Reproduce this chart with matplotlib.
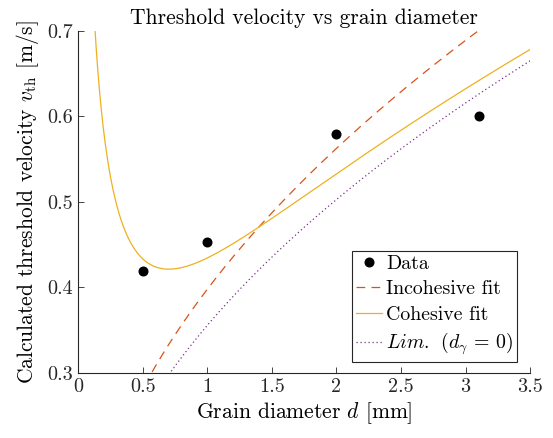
import numpy as np
import matplotlib
matplotlib.use("Agg")
import matplotlib.pyplot as plt

plt.rcParams["font.family"] = "serif"
plt.rcParams["font.serif"] = ["cmr10"]
plt.rcParams["mathtext.fontset"] = "cm"
plt.rcParams["axes.formatter.use_mathtext"] = True

# Measured threshold velocities
grain_d = np.array([0.5, 1.0, 2.0, 3.1])        # mm
v_th = np.array([0.419, 0.453, 0.579, 0.600])   # m/s

# Incohesive model v = sqrt(A d): linear least squares in sqrt(A)
s = np.sqrt(grain_d)
c = np.sum(v_th * s) / np.sum(s * s)
A_inc = c ** 2

# Cohesive model v = sqrt(a d + b / d): Gauss-Newton least squares
a, b = 0.12, 0.06
for _ in range(100):
    model = np.sqrt(a * grain_d + b / grain_d)
    r = v_th - model
    J = np.column_stack([grain_d / (2 * model), 1.0 / (grain_d * 2 * model)])
    step, *_ = np.linalg.lstsq(J, r, rcond=None)
    a += step[0]
    b += step[1]

d = np.linspace(0.01, 3.5, 2000)
v_inc = np.sqrt(A_inc * d)
v_coh = np.sqrt(a * d + b / d)
v_lim = np.sqrt(a * d)

fig = plt.figure(figsize=(5.53, 4.38), dpi=100)
ax = fig.add_axes([0.1412, 0.1489, 0.8176, 0.7810])

ax.plot(grain_d, v_th, "o", color="black", markersize=6.2, label="Data", zorder=5)
ax.plot(d, v_inc, color="#D95319", lw=0.9, dashes=(7, 5), label="Incohesive fit")
ax.plot(d, v_coh, color="#EDB120", lw=0.9, label="Cohesive fit")
ax.plot(d, v_lim, color="#7E2F8E", lw=0.9, dashes=(1, 2.2),
        label=r"$Lim.\;\,(d_\gamma\, =\, 0)$")

ax.set_xlim(0, 3.5)
ax.set_ylim(0.3, 0.7)
ax.set_xticks(np.arange(0, 3.51, 0.5))
ax.set_xticklabels(["0", "0.5", "1", "1.5", "2", "2.5", "3", "3.5"])
ax.set_yticks([0.3, 0.4, 0.5, 0.6, 0.7])
ax.set_yticklabels(["0.3", "0.4", "0.5", "0.6", "0.7"])

for side in ("top", "right"):
    ax.spines[side].set_visible(False)
for side in ("left", "bottom"):
    ax.spines[side].set_linewidth(0.8)
    ax.spines[side].set_color("#262626")
ax.tick_params(direction="in", length=4, width=0.6, labelsize=14.5, colors="#262626",
               labelcolor="#262626", pad=4)

ax.set_title("Threshold velocity vs grain diameter", fontsize=15.5, pad=5)
ax.set_xlabel(r"Grain diameter $d$ [mm]", fontsize=15.5, labelpad=3)
ax.set_ylabel(r"Calculated threshold velocity $v_{\rm th}$ [m/s]", fontsize=15.5,
              labelpad=4)

leg = ax.legend(loc="lower right", fontsize=14.3, frameon=True, fancybox=False,
                edgecolor="#262626", framealpha=1, handlelength=1.3,
                borderpad=0.22, labelspacing=0.38, handletextpad=0.2,
                borderaxespad=0, bbox_to_anchor=(0.971, 0.032))
leg.get_frame().set_linewidth(0.8)

fig.savefig("out.png", dpi=100)
